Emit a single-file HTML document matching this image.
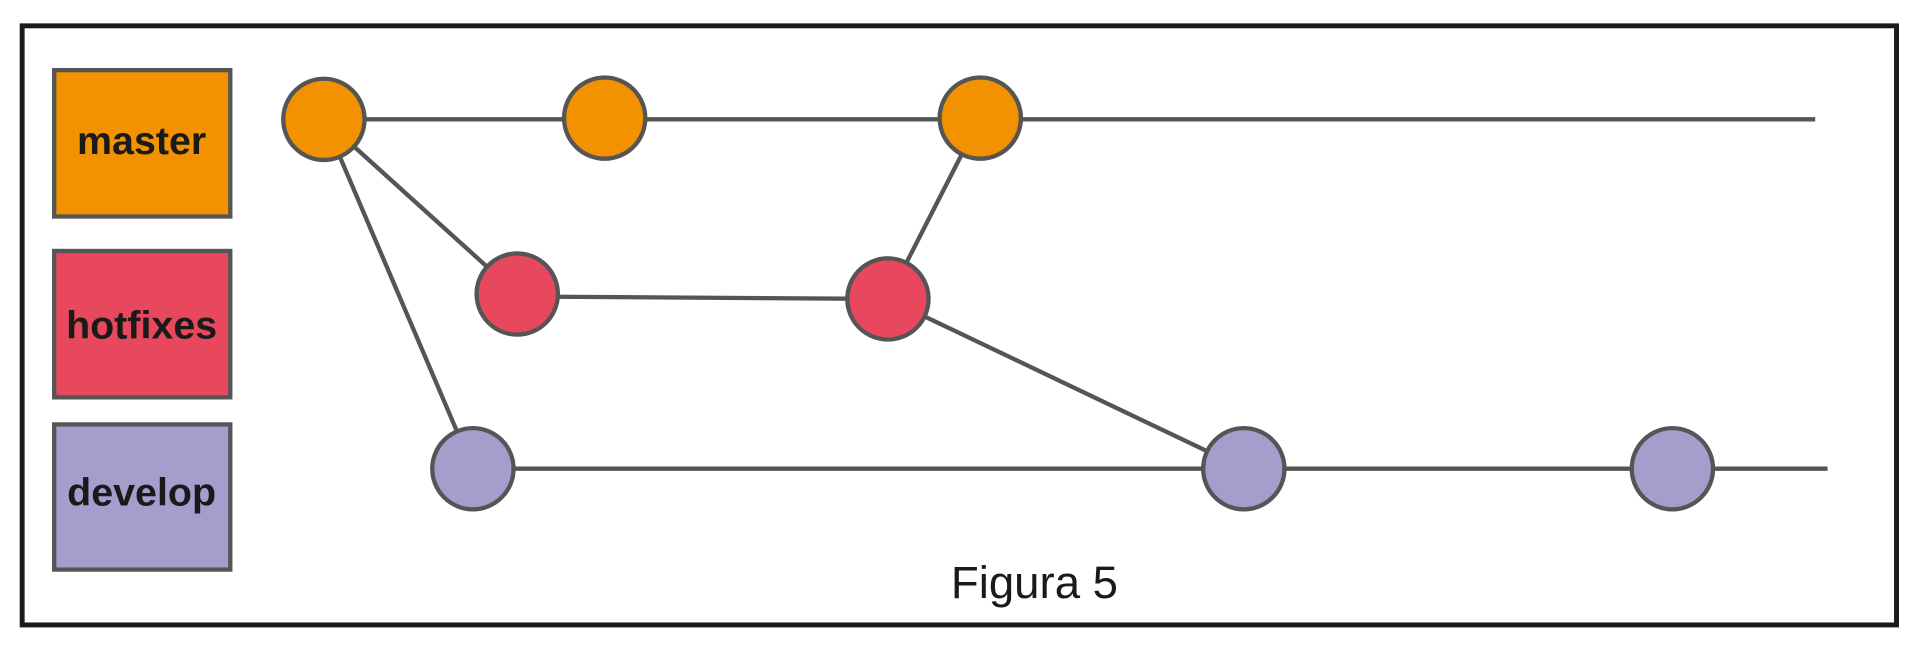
<!DOCTYPE html>
<html><head><meta charset="utf-8"><style>html,body{margin:0;padding:0;background:#fff}svg{display:block}</style></head>
<body>
<svg width="1931" height="652" viewBox="0 0 1568 530" preserveAspectRatio="none" xmlns="http://www.w3.org/2000/svg">
<rect x="0" y="0" width="1568" height="530" fill="#fff"/>
<rect x="18" y="21" width="1522" height="487" fill="none" stroke="#1a1a1a" stroke-width="4"/>
<g stroke="#555" stroke-width="3.5">
<rect x="44" y="57" width="143" height="119" fill="#f39200"/>
<rect x="44" y="204" width="143" height="119" fill="#e8485e"/>
<rect x="44" y="345" width="143" height="118" fill="#a59dcc"/>
<line x1="263" y1="97" x2="1474" y2="97"/>
<line x1="420" y1="241" x2="721" y2="243"/>
<line x1="384" y1="381" x2="1484" y2="381"/>
<line x1="263" y1="97" x2="420" y2="239"/>
<line x1="263" y1="97" x2="384" y2="381"/>
<line x1="721" y1="243" x2="796" y2="96"/>
<line x1="721" y1="243" x2="1010" y2="381"/>
<g fill="#f39200"><circle cx="263" cy="97" r="33"/><circle cx="491" cy="96" r="33"/><circle cx="796" cy="96" r="33"/></g>
<g fill="#e8485e"><circle cx="420" cy="239" r="33"/><circle cx="721" cy="243" r="33"/></g>
<g fill="#a59dcc"><circle cx="384" cy="381" r="33"/><circle cx="1010" cy="381" r="33"/><circle cx="1358" cy="381" r="33"/></g>
</g>
<g font-family="Liberation Sans, sans-serif" font-weight="bold" font-size="32" fill="#1a1a1a" text-anchor="middle">
<text x="115" y="125">master</text>
<text x="115" y="275">hotfixes</text>
<text x="115" y="411">develop</text>
</g>
<text x="840" y="486" font-family="Liberation Sans, sans-serif" font-size="37" fill="#1a1a1a" text-anchor="middle">Figura 5</text>
</svg>
</body></html>
